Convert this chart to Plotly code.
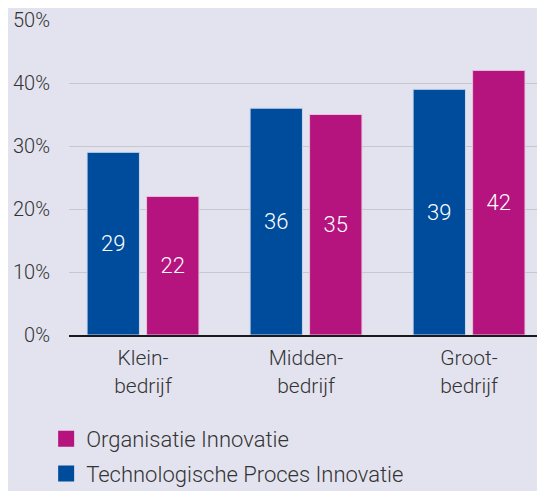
import plotly.graph_objects as go

categories = ["Klein-<br>bedrijf", "Midden-<br>bedrijf", "Groot-<br>bedrijf"]
tech_proces = [29, 36, 39]
organisatie = [22, 35, 42]
y_ticks = [0, 10, 20, 30, 40, 50]

BLUE = "#004c9c"
MAGENTA = "#b5137e"
BG = "#e3e3ef"
FONT = "Roboto"

x_pos = list(range(len(categories)))

fig = go.Figure()

fig.add_trace(go.Bar(
    x=x_pos, y=tech_proces, name="Technologische Proces Innovatie",
    marker=dict(color=BLUE, line=dict(color="#c9d6ea", width=1)),
    text=tech_proces, textposition="inside", insidetextanchor="middle",
    textfont=dict(color="white", size=22, family=FONT, weight=300),
    showlegend=False,
))
fig.add_trace(go.Bar(
    x=x_pos, y=organisatie, name="Organisatie Innovatie",
    marker=dict(color=MAGENTA, line=dict(color="#e6c3dc", width=1)),
    text=organisatie, textposition="inside", insidetextanchor="middle",
    textfont=dict(color="white", size=22, family=FONT, weight=300),
    showlegend=False,
))

# legend entries with bigger square swatches
for name, color in [("Organisatie Innovatie", MAGENTA),
                    ("Technologische Proces Innovatie", BLUE)]:
    fig.add_trace(go.Scatter(
        x=[None], y=[None], mode="markers", name=name, legendgroup=name,
        marker=dict(symbol="square", size=18, color=color),
    ))

# page body has an 8px margin, so the figure is placed 8px right/down
fig.update_layout(
    width=545, height=491,
    margin=dict(l=61, r=8, t=12, b=164, autoexpand=False),
    paper_bgcolor=BG, plot_bgcolor=BG,
    barmode="group", bargap=0.27, bargroupgap=0.12,
    font=dict(family=FONT, color="#333333", size=19, weight=300),
    showlegend=True,
    legend=dict(
        xref="container", yref="container",
        x=0.07, y=0.165, xanchor="left", yanchor="top",
        traceorder="grouped", tracegroupgap=3,
        font=dict(size=22, color="#333333", weight=300),
        bgcolor="rgba(0,0,0,0)", itemwidth=30,
    ),
    xaxis=dict(
        tickmode="array", tickvals=x_pos, ticktext=categories,
        range=[-0.454, 2.466], showgrid=False, zeroline=False,
        showline=True, linecolor="#1a1a1a", linewidth=2,
        tickfont=dict(size=21), ticks="", automargin=False,
        ticklabelstandoff=3,
    ),
    yaxis=dict(
        range=[0, 50], tickvals=y_ticks,
        ticktext=[f"{v}%" for v in y_ticks],
        showgrid=True, gridcolor="#c8c8cc", gridwidth=1,
        zeroline=False, ticklabelstandoff=18, automargin=False,
        tickfont=dict(size=20),
    ),
)

fig.write_html("out.html")
